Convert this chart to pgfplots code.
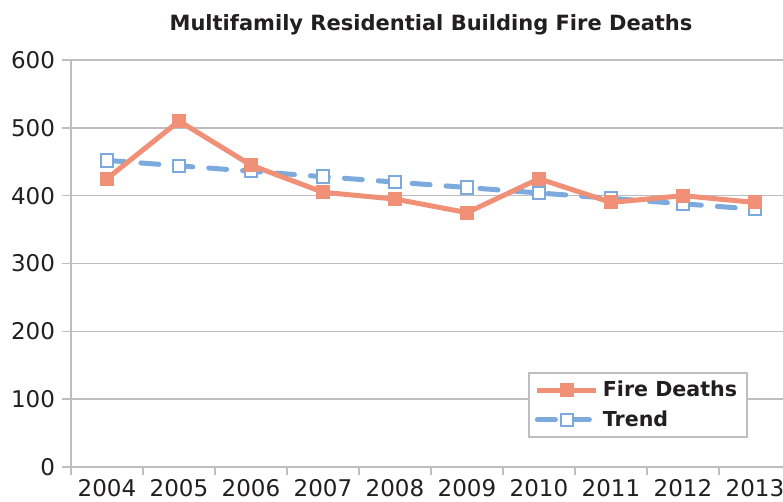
\documentclass[border=0pt]{standalone}
\usepackage{fontspec}
\setmainfont{DejaVu Sans}
\usepackage{pgfplots}
\usepackage{pgfplotstable}
\pgfplotsset{compat=1.18}

\definecolor{firec}{RGB}{240,144,118}
\definecolor{trendc}{RGB}{124,170,221}
\definecolor{gridc}{RGB}{190,190,192}
\definecolor{txt}{RGB}{35,31,32}

% year index, fire deaths, linear trend
\pgfplotstableread{
yr fire trend
0 425 452
1 510 444
2 445 436
3 405 428
4 395 420
5 375 412
6 425 404
7 390 396
8 400 388
9 390 380
}\deaths

\begin{document}
\begin{tikzpicture}
\begin{axis}[
  scale only axis, width=360pt, height=203.5pt,
  xmin=-0.5, xmax=9.5, ymin=0, ymax=600,
  xtick={0,...,9},
  xticklabels={2004,2005,2006,2007,2008,2009,2010,2011,2012,2013},
  minor xtick={-0.5,0.5,...,9.5},
  ytick={0,100,...,600},
  ymajorgrids, grid style={gridc, line width=0.75pt},
  axis lines*=left, axis line style={gridc, line width=0.75pt},
  tick align=outside, major tick length=4.5pt, minor tick length=4pt,
  tick style={gridc, line width=0.75pt},
  major x tick style={draw=none},
  /pgf/number format/assume math mode=true,
  tick label style={font=\fontsize{11.5}{13}\selectfont, text=txt},
  xticklabel style={yshift=2pt},
  title={Multifamily Residential Building Fire Deaths},
  title style={font=\bfseries\fontsize{10.5}{12}\selectfont, text=txt,
    anchor=base, at={(0.5,1)}, yshift=9pt},
  legend style={at={(0.94,0.233)}, anchor=north east, draw=gridc,
    line width=0.75pt, font=\bfseries\fontsize{10.3}{12}\selectfont, text=txt,
    row sep=1.5pt, inner xsep=3pt},
  legend cell align=left,
  reverse legend,
  legend image code/.code={\draw[#1,mark repeat=2,mark phase=2]
    plot coordinates {(0pt,0pt) (14.75pt,0pt) (29.5pt,0pt)};},
]
\coordinate (bl) at (rel axis cs:0,0);
\addplot[trendc, line width=2.5pt, dash pattern=on 9pt off 8pt, line cap=round,
  mark=square*, mark size=3.1pt,
  mark options={solid, fill=white, draw=trendc, line width=1pt}]
  table[x=yr, y=trend]{\deaths};
\addlegendentry{Trend}
\addplot[firec, line width=2.5pt, line join=round,
  mark=square*, mark size=3.25pt,
  mark options={solid, fill=firec, draw=firec, line width=0pt}]
  table[x=yr, y=fire]{\deaths};
\addlegendentry{Fire Deaths}
\end{axis}
\pgfresetboundingbox
\path (bl) ++(-35.5pt,-17.5pt) rectangle ++(391.5pt,251pt);
\end{tikzpicture}
\end{document}
